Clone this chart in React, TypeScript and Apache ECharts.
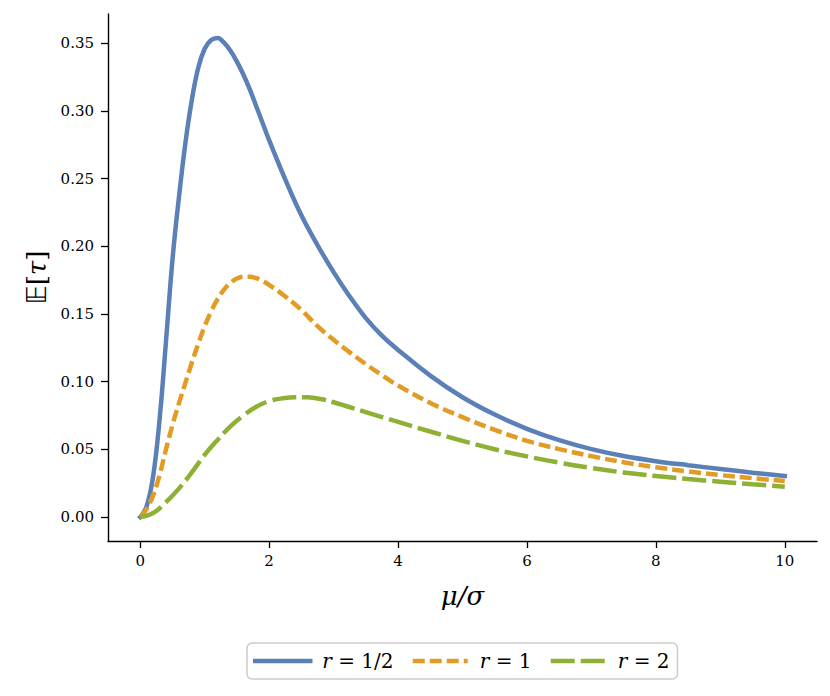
import React, { useEffect, useRef } from "react";
import * as echarts from "echarts";

// mu/sigma sample positions and E[tau] values
const xBlue = [0, 0.1, 0.2, 0.3, 0.4, 0.5, 0.6, 0.7, 0.8, 0.9, 1.0, 1.1, 1.2, 1.3, 1.4, 1.5, 1.6, 1.7, 1.8, 1.9, 2.0, 2.25, 2.5, 2.75, 3.0, 3.25, 3.5, 3.75, 4.0, 4.5, 5.0, 5.5, 6.0, 6.5, 7.0, 7.5, 8.0, 8.5, 9.0, 9.5, 10.0];
const yBlue = [0, 0.008, 0.03, 0.072, 0.13, 0.19, 0.236, 0.276, 0.308, 0.332, 0.346, 0.3525, 0.354, 0.3505, 0.3445, 0.3365, 0.327, 0.316, 0.3035, 0.291, 0.2785, 0.2495, 0.223, 0.201, 0.181, 0.163, 0.147, 0.134, 0.1235, 0.1045, 0.0885, 0.0757, 0.0652, 0.0568, 0.0502, 0.0451, 0.0413, 0.0383, 0.0355, 0.0328, 0.0303];

const xOrange = [0, 0.1, 0.2, 0.3, 0.4, 0.5, 0.6, 0.7, 0.8, 0.9, 1.0, 1.1, 1.2, 1.3, 1.4, 1.5, 1.6, 1.7, 1.8, 1.9, 2.0, 2.25, 2.5, 2.75, 3.0, 3.25, 3.5, 3.75, 4.0, 4.5, 5.0, 5.5, 6.0, 6.5, 7.0, 7.5, 8.0, 8.5, 9.0, 9.5, 10.0];
const yOrange = [0, 0.006, 0.016, 0.031, 0.05, 0.068, 0.084, 0.099, 0.114, 0.128, 0.141, 0.152, 0.161, 0.168, 0.173, 0.1762, 0.1775, 0.1775, 0.1765, 0.1745, 0.1715, 0.163, 0.153, 0.141, 0.131, 0.1217, 0.113, 0.1048, 0.0972, 0.0843, 0.0738, 0.0644, 0.0563, 0.0502, 0.045, 0.0405, 0.0368, 0.0337, 0.031, 0.0287, 0.0266];

const xGreen = [0, 0.2, 0.4, 0.6, 0.8, 1.0, 1.2, 1.4, 1.6, 1.8, 2.0, 2.2, 2.4, 2.6, 2.8, 3.0, 3.5, 4.0, 4.5, 5.0, 5.5, 6.0, 6.5, 7.0, 7.5, 8.0, 8.5, 9.0, 9.5, 10.0];
const yGreen = [0, 0.003, 0.011, 0.021, 0.033, 0.046, 0.057, 0.067, 0.075, 0.0815, 0.0857, 0.0877, 0.0886, 0.0885, 0.0872, 0.0848, 0.0775, 0.0703, 0.0632, 0.0563, 0.0501, 0.0448, 0.0402, 0.0362, 0.0329, 0.0303, 0.0281, 0.0261, 0.0242, 0.0224];

const seriesNames = ["r = 1/2", "r = 1", "r = 2"];
const xTicks = [0, 2, 4, 6, 8, 10];
const yTicks = [0, 0.05, 0.1, 0.15, 0.2, 0.25, 0.3, 0.35];

const SERIF = "'DejaVu Serif', 'Liberation Serif', serif";

function pairs(xs: number[], ys: number[]) {
  return xs.map((x, i) => [x, ys[i]]);
}

export default function App() {
  const ref = useRef<HTMLDivElement>(null);
  useEffect(() => {
    if (!ref.current) return;
    const chart = echarts.init(ref.current, undefined, { renderer: "svg" });
    const colors = ["#5b7fb7", "#e29c26", "#8db035"];
    const dashes: any[] = ["solid", [12, 5], [24, 6]];
    const datas = [pairs(xBlue, yBlue), pairs(xOrange, yOrange), pairs(xGreen, yGreen)];
    chart.setOption({
      animation: false,
      backgroundColor: "#ffffff",
      grid: { left: 108, right: 13, top: 14, bottom: 155, containLabel: false },
      xAxis: {
        type: "value",
        min: -0.5,
        max: 10.5,
        name: "μ/σ",
        nameLocation: "middle",
        nameGap: 42,
        nameTextStyle: { fontFamily: SERIF, fontSize: 26, fontStyle: "italic", color: "#000", verticalAlign: "top" },
        axisLine: { show: true, onZero: false, lineStyle: { color: "#000", width: 1.4 } },
        axisTick: { show: true, length: 7, inside: false, customValues: xTicks, lineStyle: { color: "#000", width: 1.3 } },
        axisLabel: { customValues: xTicks, margin: 12, fontFamily: SERIF, fontSize: 15, color: "#000", formatter: (v: number) => String(v) },
        splitLine: { show: false },
      },
      yAxis: {
        type: "value",
        min: -0.0177,
        max: 0.3717,
        name: "{bb|𝔼}[{it|τ}]",
        nameLocation: "middle",
        nameGap: 56,
        nameRotate: 90,
        nameTextStyle: {
          fontFamily: SERIF,
          fontSize: 26,
          color: "#000",
          rich: {
            bb: { fontFamily: "'DejaVu Sans', sans-serif", fontSize: 26, color: "#000" },
            it: { fontFamily: SERIF, fontStyle: "italic", fontSize: 26, color: "#000" },
          },
        },
        axisLine: { show: true, onZero: false, lineStyle: { color: "#000", width: 1.4 } },
        axisTick: { show: true, length: 7, inside: false, customValues: yTicks, lineStyle: { color: "#000", width: 1.3 } },
        axisLabel: { customValues: yTicks, margin: 14, fontFamily: SERIF, fontSize: 15, color: "#000", formatter: (v: number) => v.toFixed(2) },
        splitLine: { show: false },
      },
      legend: {
        left: 247,
        top: 643,
        orient: "horizontal",
        itemWidth: 55,
        itemHeight: 14,
        itemGap: 17,
        padding: [8, 8, 8, 6],
        borderColor: "#cccccc",
        borderWidth: 1.5,
        borderRadius: 5,
        backgroundColor: "#ffffff",
        itemStyle: { opacity: 0 },
        lineStyle: { width: 4.5 },
        data: seriesNames,
        formatter: (name: string) => "{i|r}" + name.slice(1),
        textStyle: {
          fontFamily: SERIF,
          fontSize: 20,
          color: "#000",
          padding: [0, 0, 0, 7],
          rich: {
            i: { fontFamily: SERIF, fontStyle: "italic", fontSize: 20, color: "#000" },
          },
        },
      },
      series: seriesNames.map((name, i) => ({
        name,
        type: "line",
        data: datas[i],
        symbol: "none",
        smooth: 0.4,
        color: colors[i],
        lineStyle: { color: colors[i], width: 4.5, type: dashes[i], cap: i === 0 ? "square" : "butt" },
        z: 2 + i,
      })),
    });
    return () => chart.dispose();
  }, []);
  return <div ref={ref} style={{ position: "fixed", left: 0, top: 0, width: 830, height: 696 }} />;
}
